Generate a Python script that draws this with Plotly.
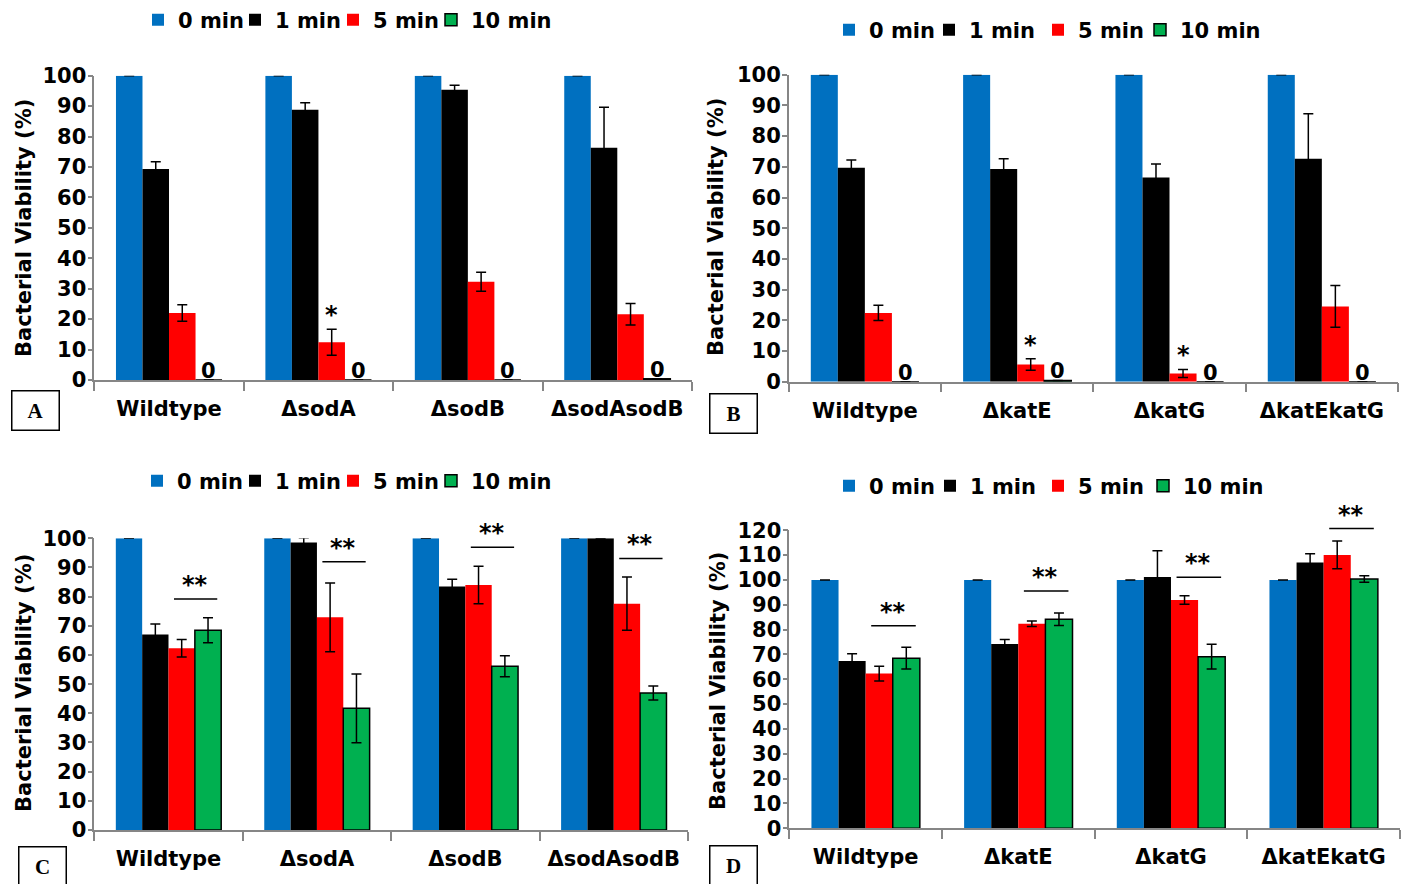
import plotly.graph_objects as go

# ---- data -------------------------------------------------------------
series = ["0 min", "1 min", "5 min", "10 min"]
colors = ["#0070C0", "#000000", "#FF0000", "#00B050"]

sod_strains = ["Wildtype", "ΔsodA", "ΔsodB", "ΔsodAsodB"]
kat_strains = ["Wildtype", "ΔkatE", "ΔkatG", "ΔkatEkatG"]

# Panel A (sod mutants)
a_0min = [100, 100, 100, 100]
a_0min_err = [0, 0, 0, 0]
a_1min = [69.3, 88.8, 95.4, 76.3]
a_1min_err = [2.4, 2.3, 1.5, 13.3]
a_5min = [22.0, 12.4, 32.3, 21.6]
a_5min_err = [2.7, 4.3, 3.1, 3.5]
a_10min = [0, 0, 0, 0.4]
a_10min_err = [None, None, None, None]
a_star = ["", "*", "", ""]

# Panel B (kat mutants)
b_0min = [100, 100, 100, 100]
b_0min_err = [0, 0, 0, 0]
b_1min = [69.7, 69.3, 66.5, 72.6]
b_1min_err = [2.5, 3.3, 4.4, 14.7]
b_5min = [22.4, 5.6, 2.7, 24.5]
b_5min_err = [2.5, 1.9, 1.3, 6.8]
b_10min = [0, 0.4, 0, 0]
b_10min_err = [None, None, None, None]
b_star = ["", "*", "*", ""]

# Panel C (sod mutants)
c_0min = [100, 100, 100, 100]
c_0min_err = [0, 0, 0, 0]
c_1min = [67.0, 98.6, 83.5, 100]
c_1min_err = [3.6, 1.6, 2.5, 0]
c_5min = [62.3, 72.9, 84.0, 77.6]
c_5min_err = [3.0, 11.8, 6.4, 9.1]
c_10min = [68.5, 41.7, 56.1, 47.0]
c_10min_err = [4.3, 11.8, 3.6, 2.4]
c_sig = ["**", "**", "**", "**"]
c_sig_y = [79.2, 92.0, 96.9, 93.1]

# Panel D (kat mutants)
d_0min = [100, 100, 100, 100]
d_0min_err = [0, 0, 0, 0]
d_1min = [67.4, 74.2, 101.2, 107.0]
d_1min_err = [2.9, 1.8, 10.6, 3.6]
d_5min = [62.3, 82.4, 91.9, 110.1]
d_5min_err = [3.0, 1.1, 1.7, 5.6]
d_10min = [68.5, 84.2, 69.1, 100.4]
d_10min_err = [4.4, 2.5, 5.0, 1.3]
d_sig = ["**", "**", "**", "**"]
d_sig_y = [81.6, 95.6, 101.1, 120.7]

# ---- layout helpers ---------------------------------------------------
FIG_W, FIG_H = 1404, 884
FONT = "DejaVu Sans"
AXIS_GRAY = "#868686"
BAR_GAP = 0.29
BAR_W = (1 - BAR_GAP) / 4
LEGEND_TEXT_OFFSET = 37  # legend box left edge -> start of item text


def bar_left(k):
    return -(1 - BAR_GAP) / 2 + k * BAR_W


def bar_center(i, k):
    return i + bar_left(k) + BAR_W / 2


def px_x(px):
    return px / FIG_W


def px_y(py):
    return (FIG_H - py) / FIG_H


panels = [
    dict(letter="A", strains=sod_strains,
         vals=[a_0min, a_1min, a_5min, a_10min],
         errs=[a_0min_err, a_1min_err, a_5min_err, a_10min_err],
         stars=a_star, zeros=True,
         xdom=[px_x(94.3), px_x(692)], ydom=[px_y(380), px_y(75.7)],
         ymax=100, legend_text_x=[175, 272, 370, 468], legend_y=20,
         ytitle_xy=(24, 228), box_xy=(35, 410)),
    dict(letter="B", strains=kat_strains,
         vals=[b_0min, b_1min, b_5min, b_10min],
         errs=[b_0min_err, b_1min_err, b_5min_err, b_10min_err],
         stars=b_star, zeros=True,
         xdom=[px_x(788.7), px_x(1398)], ydom=[px_y(381.7), px_y(74.7)],
         ymax=100, legend_text_x=[866, 966, 1075, 1177], legend_y=30,
         ytitle_xy=(716, 227), box_xy=(733, 413)),
    dict(letter="C", strains=sod_strains,
         vals=[c_0min, c_1min, c_5min, c_10min],
         errs=[c_0min_err, c_1min_err, c_5min_err, c_10min_err],
         sig=c_sig, sig_y=c_sig_y,
         xdom=[px_x(94.3), px_x(688)], ydom=[px_y(830), px_y(538.3)],
         ymax=100, legend_text_x=[174, 272, 370, 468], legend_y=481,
         ytitle_xy=(24, 683), box_xy=(42, 866)),
    dict(letter="D", strains=kat_strains,
         vals=[d_0min, d_1min, d_5min, d_10min],
         errs=[d_0min_err, d_1min_err, d_5min_err, d_10min_err],
         sig=d_sig, sig_y=d_sig_y,
         xdom=[px_x(789.3), px_x(1400)], ydom=[px_y(828.3), px_y(530.3)],
         ymax=120, legend_text_x=[866, 967, 1075, 1180], legend_y=486,
         ytitle_xy=(718, 681), box_xy=(733, 865)),
]

fig = go.Figure()
annotations = []
layout_extra = {}
bold = dict(family=FONT, color="black", weight="bold")
legend_count = 0

for p_idx, p in enumerate(panels):
    n = p_idx + 1
    sfx = "" if n == 1 else str(n)
    xref, yref = "x" + sfx, "y" + sfx
    ydref = yref + " domain"
    ymax = p["ymax"]
    cats = list(range(len(p["strains"])))

    for k, name in enumerate(series):
        # one legend box per entry so each key sits at its own spot
        legend_count += 1
        legend_name = "legend" if legend_count == 1 else f"legend{legend_count}"
        layout_extra[legend_name] = dict(
            orientation="h",
            x=px_x(p["legend_text_x"][k] - LEGEND_TEXT_OFFSET),
            y=px_y(p["legend_y"]), xanchor="left", yanchor="middle",
            xref="paper", yref="paper", bgcolor="rgba(0,0,0,0)",
            borderwidth=0, itemclick=False, itemdoubleclick=False,
            font=dict(size=21, **bold),
        )
        line = dict(width=0)
        if k == 3:
            line = dict(color="black", width=1.5)
        fig.add_trace(go.Bar(
            x=cats, y=p["vals"][k], name=name,
            width=BAR_W, offset=bar_left(k),
            marker=dict(color=colors[k], line=line),
            error_y=dict(type="data", array=p["errs"][k], symmetric=True,
                         color="black", thickness=1.5, width=5),
            xaxis=xref, yaxis=yref, legend=legend_name,
            hoverinfo="skip",
        ))

    # value labels for the 10 min bars that dropped to zero
    if p.get("zeros"):
        for i, v in enumerate(p["vals"][3]):
            annotations.append(dict(
                x=bar_center(i, 3), y=v / ymax, xref=xref, yref=ydref,
                text=f"{v:.0f}", showarrow=False, yanchor="bottom",
                yshift=-5, font=dict(size=21, **bold)))

    # single asterisks above the 5 min bars
    if p.get("stars"):
        for i, s in enumerate(p["stars"]):
            if not s:
                continue
            top = p["vals"][2][i] + p["errs"][2][i]
            annotations.append(dict(
                x=bar_center(i, 2), y=top / ymax, xref=xref, yref=ydref,
                text=s, showarrow=False, yanchor="bottom", yshift=-2,
                font=dict(size=24, **bold)))

    # significance brackets between 5 min and 10 min bars
    if p.get("sig"):
        for i, s in enumerate(p["sig"]):
            x0 = bar_center(i, 2) - 0.35 * BAR_W
            x1 = bar_center(i, 3) + 0.35 * BAR_W
            y = p["sig_y"][i] / ymax
            annotations.append(dict(
                x=x1, y=y, ax=x0, ay=y, xref=xref, yref=ydref,
                axref=xref, ayref=ydref, text="", showarrow=True,
                arrowhead=0, arrowwidth=1.5, arrowcolor="black", standoff=0,
                startstandoff=0))
            annotations.append(dict(
                x=(x0 + x1) / 2, y=y, xref=xref, yref=ydref, text=s,
                showarrow=False, yanchor="bottom", yshift=-2,
                font=dict(size=24, **bold)))

    # y-axis title
    tx, ty = p["ytitle_xy"]
    annotations.append(dict(
        x=px_x(tx), y=px_y(ty), xref="paper", yref="paper",
        text="Bacterial Viability (%)", textangle=-90, showarrow=False,
        xanchor="center", yanchor="middle", font=dict(size=21, **bold)))

    # boxed panel letter
    bx, by = p["box_xy"]
    annotations.append(dict(
        x=px_x(bx), y=px_y(by), xref="paper", yref="paper",
        text=p["letter"], showarrow=False, xanchor="center", yanchor="middle",
        width=46, height=38, borderpad=0, bordercolor="black", borderwidth=1.5,
        bgcolor="white",
        font=dict(family="Liberation Serif", size=21, color="black",
                  weight="bold")))

    layout_extra["xaxis" + sfx] = dict(
        domain=p["xdom"], anchor=yref, range=[-0.5, len(cats) - 0.5],
        tickmode="array", tickvals=cats, ticktext=p["strains"], ticks="",
        ticklabelstandoff=9, automargin=False,
        showline=True, linecolor=AXIS_GRAY, linewidth=1.5,
        showgrid=False, zeroline=False, fixedrange=True,
        tickfont=dict(size=21, **bold),
        minor=dict(tickmode="array",
                   tickvals=[c - 0.5 for c in cats] + [cats[-1] + 0.5],
                   ticks="outside", ticklen=9, tickwidth=1.5,
                   tickcolor=AXIS_GRAY, showgrid=False),
    )
    layout_extra["yaxis" + sfx] = dict(
        domain=p["ydom"], anchor=xref, range=[0, ymax],
        tickmode="array", tickvals=list(range(0, ymax + 1, 10)),
        ticks="outside", ticklen=5, tickwidth=1.5, tickcolor=AXIS_GRAY,
        ticklabelstandoff=-3,
        showline=True, linecolor=AXIS_GRAY, linewidth=1.5, automargin=False,
        showgrid=False, zeroline=False, fixedrange=True,
        tickfont=dict(size=21, **bold),
    )

fig.update_layout(
    width=FIG_W, height=FIG_H,
    margin=dict(l=0, r=0, t=0, b=0, autoexpand=False),
    paper_bgcolor="white", plot_bgcolor="white",
    barmode="overlay", showlegend=True,
    annotations=annotations,
    **layout_extra,
)

fig.write_html("out.html")
